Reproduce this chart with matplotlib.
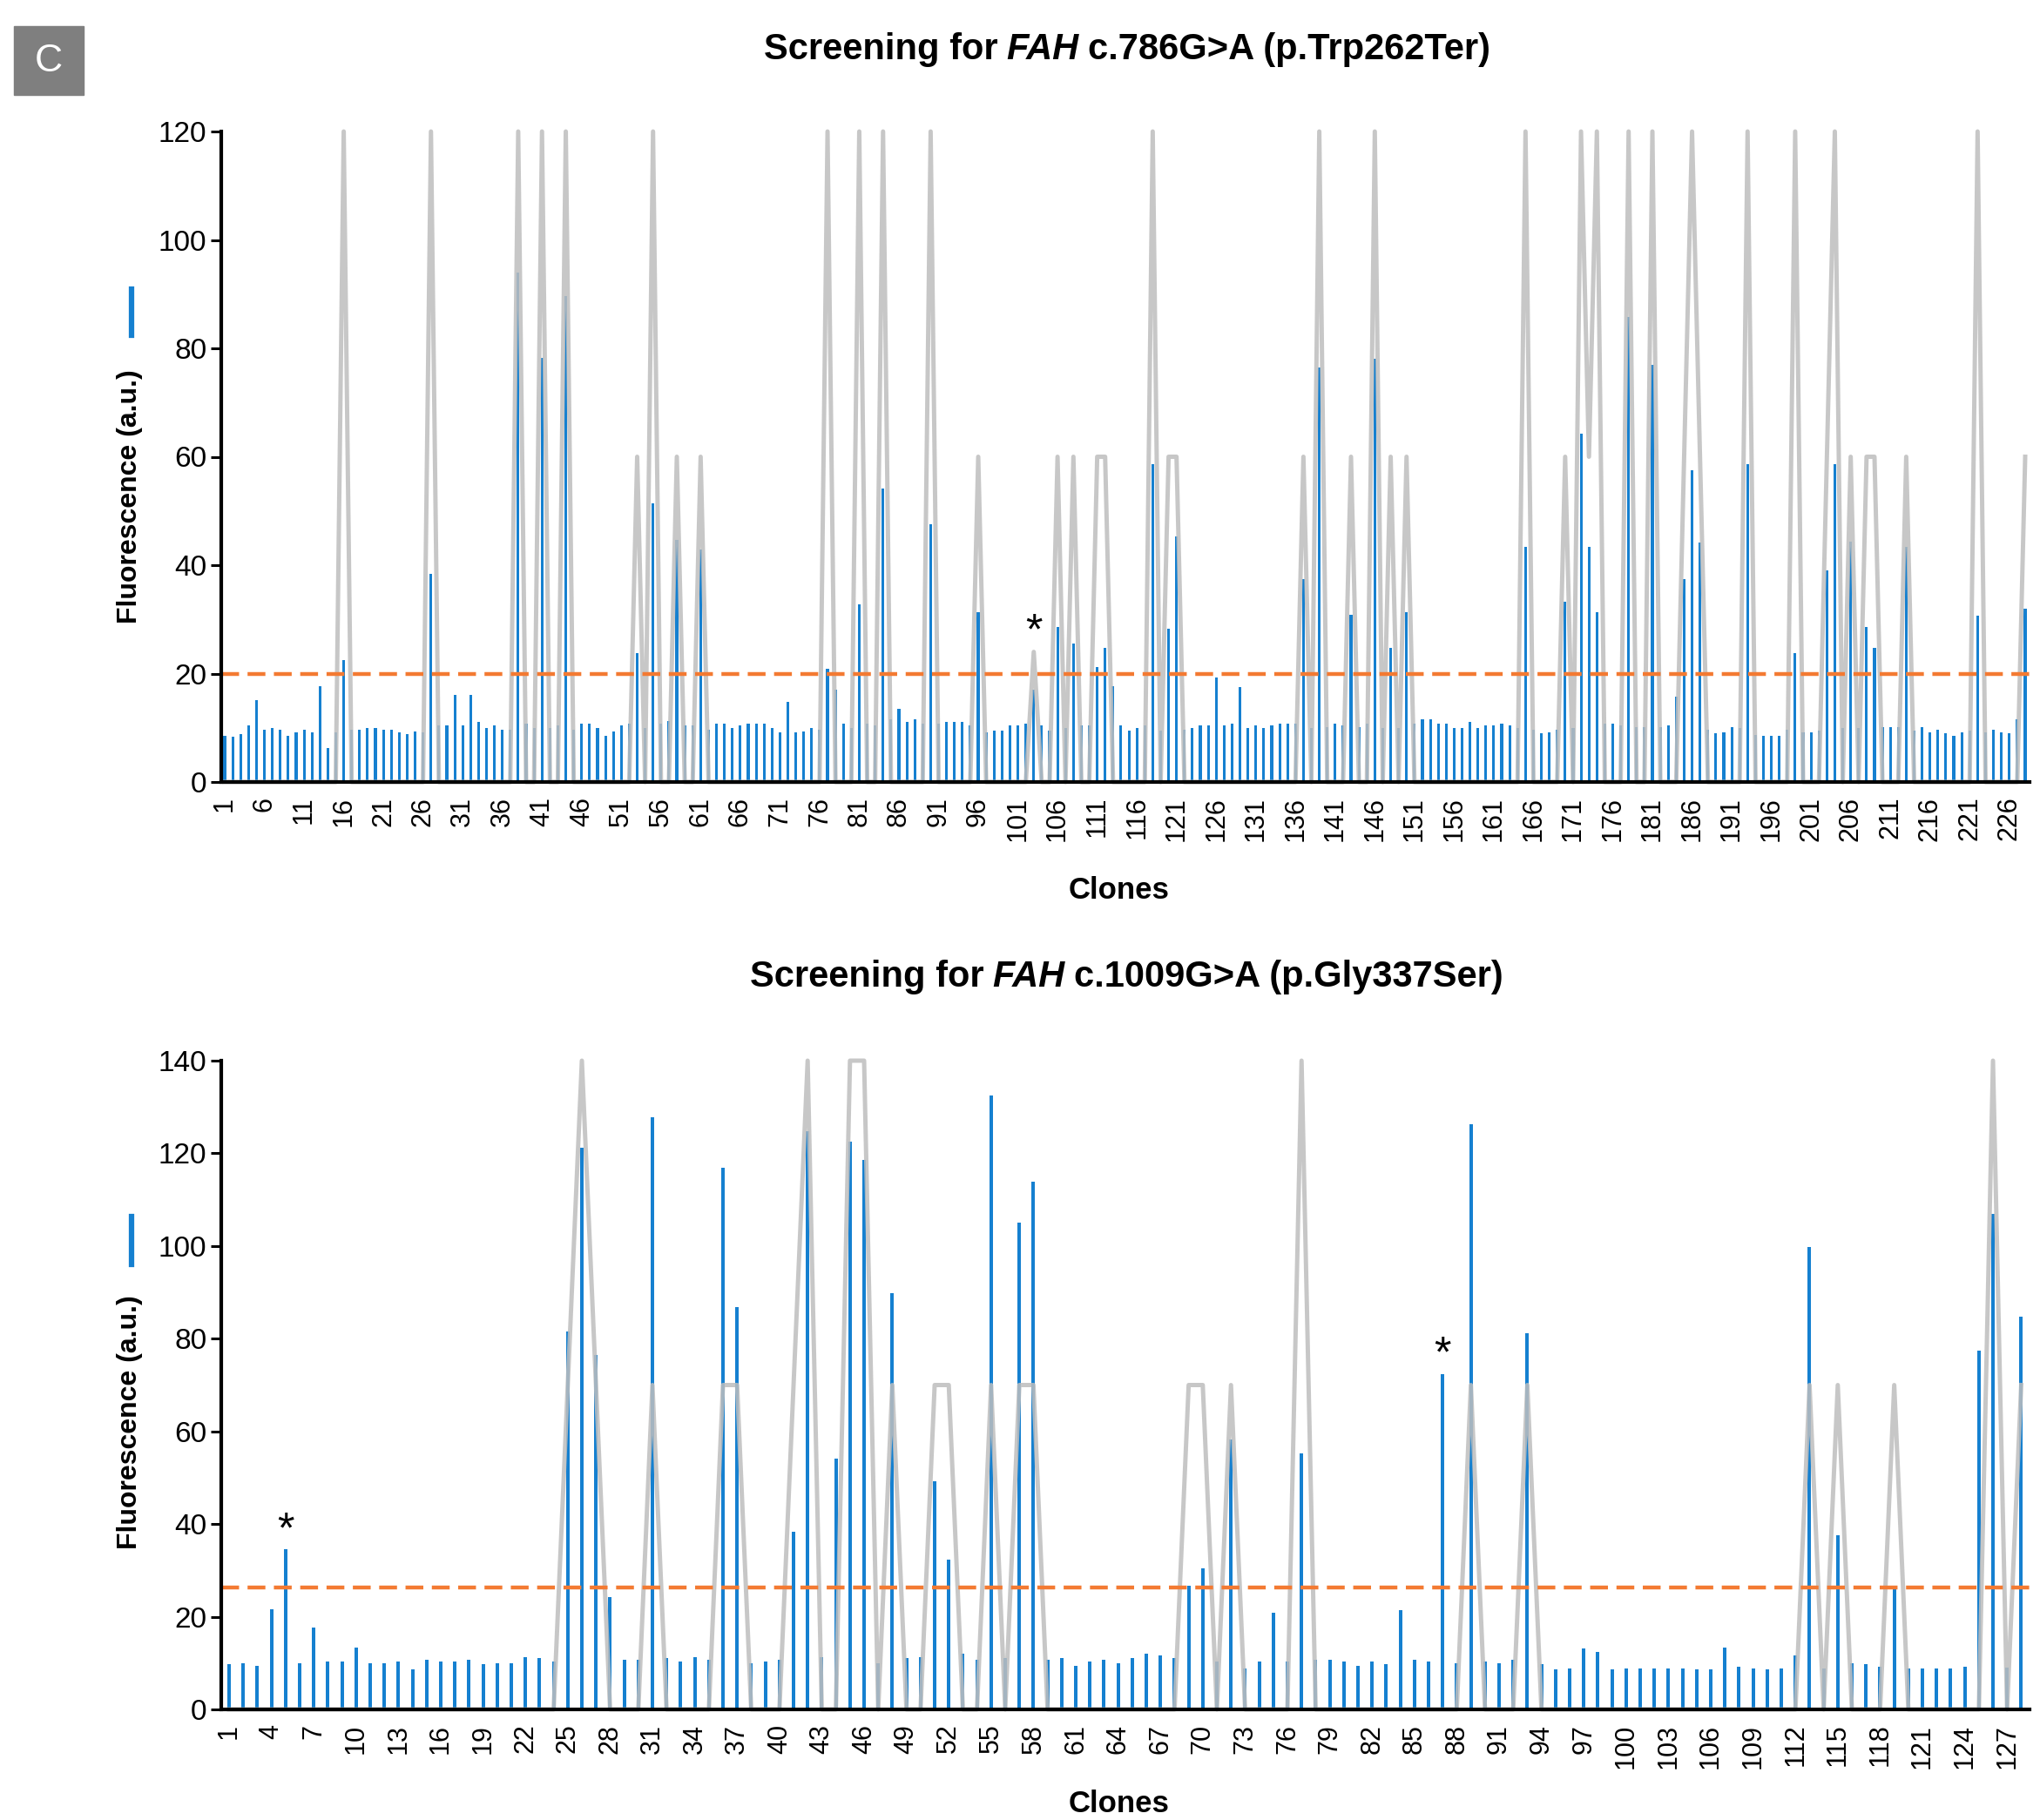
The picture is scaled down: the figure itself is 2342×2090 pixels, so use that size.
import numpy as np
import matplotlib
matplotlib.use("Agg")
import matplotlib.pyplot as plt
from matplotlib.lines import Line2D
from matplotlib.patches import Rectangle

# ---- data ----
# FAH c.786G>A screen, blue bars = fluorescence per clone
trp_fluorescence = [
    8.5, 8.3, 8.9, 10.4, 15.1, 9.7, 9.9, 9.7, 8.5, 9.1,
    9.7, 9.1, 17.7, 6.3, 9.1, 22.5, 9.7, 9.7, 9.9, 9.9,
    9.7, 9.7, 9.1, 8.9, 9.3, 9.1, 38.4, 10.4, 10.4, 16.0,
    10.4, 16.0, 11.1, 9.9, 10.4, 9.7, 9.7, 93.9, 10.7, 9.9,
    78.3, 10.0, 10.4, 89.6, 9.7, 10.7, 10.7, 9.9, 8.5, 9.3,
    10.4, 10.7, 23.8, 10.0, 51.4, 10.8, 11.3, 44.6, 10.4, 10.4,
    42.9, 9.7, 10.8, 10.8, 9.9, 10.4, 10.8, 10.8, 10.7, 9.9,
    9.1, 14.8, 9.1, 9.3, 9.9, 9.7, 20.9, 17.0, 10.8, 10.0,
    32.8, 10.8, 10.4, 54.1, 11.5, 13.5, 11.1, 11.5, 10.8, 47.6,
    10.8, 11.1, 11.1, 11.1, 10.4, 31.4, 9.1, 9.4, 9.4, 10.4,
    10.4, 10.8, 17.0, 10.4, 9.4, 28.6, 10.0, 25.5, 10.4, 10.4,
    21.2, 24.8, 17.7, 10.4, 9.4, 9.9, 10.4, 58.7, 9.5, 28.3,
    45.3, 9.7, 9.9, 10.4, 10.4, 19.2, 10.4, 10.8, 17.5, 9.9,
    10.4, 9.9, 10.4, 10.7, 10.8, 10.7, 37.5, 10.0, 76.4, 10.1,
    10.7, 10.4, 30.9, 10.1, 10.8, 78.1, 10.0, 24.7, 10.0, 31.4,
    10.8, 11.6, 11.5, 10.8, 10.7, 9.9, 9.9, 11.1, 9.9, 10.4,
    10.4, 10.7, 10.4, 10.0, 43.4, 9.7, 9.0, 9.2, 9.7, 33.2,
    10.0, 64.2, 43.4, 31.4, 10.8, 10.8, 10.4, 85.8, 10.1, 10.1,
    76.9, 10.1, 10.4, 15.8, 37.5, 57.5, 44.1, 9.7, 9.0, 9.2,
    10.1, 9.9, 58.7, 8.7, 8.5, 8.5, 8.5, 9.7, 23.8, 9.2,
    9.2, 9.4, 39.0, 58.7, 10.0, 44.3, 10.0, 28.6, 24.7, 10.1,
    10.1, 10.1, 43.4, 9.4, 10.1, 9.2, 9.7, 9.0, 8.5, 9.2,
    9.4, 30.7, 9.2, 9.7, 9.2, 9.0, 11.5, 31.9,
]
# gray line: non-zero clones only (all others are 0)
trp_genotype = {
    16: 120, 27: 120, 38: 120, 41: 120, 44: 120, 53: 60, 55: 120, 58: 60,
    61: 60, 77: 120, 81: 120, 84: 120, 90: 120, 96: 60, 103: 24, 106: 60,
    108: 60, 111: 60, 112: 60, 118: 120, 120: 60, 121: 60, 137: 60, 139: 120,
    143: 60, 146: 120, 148: 60, 150: 60, 165: 120, 170: 60, 172: 120, 173: 60,
    174: 120, 178: 120, 181: 120, 185: 60, 186: 120, 187: 60, 193: 120,
    199: 120, 203: 60, 204: 120, 206: 60, 208: 60, 209: 60, 213: 60,
    222: 120, 228: 60,
}
trp_threshold = 20
trp_stars = [(103, 27.5)]

# FAH c.1009G>A screen
gly_fluorescence = [
    9.7, 10.0, 9.4, 21.7, 34.6, 10.0, 17.7, 10.4, 10.4, 13.3,
    10.0, 10.0, 10.4, 8.7, 10.8, 10.4, 10.4, 10.8, 9.7, 10.0,
    10.0, 11.3, 11.1, 10.4, 81.5, 121.3, 76.5, 24.2, 10.8, 10.8,
    127.8, 11.1, 10.4, 11.3, 10.8, 116.9, 86.9, 10.0, 10.4, 10.8,
    38.4, 124.8, 11.3, 54.2, 122.6, 118.5, 10.0, 89.8, 11.1, 11.3,
    49.3, 32.4, 12.0, 10.8, 132.4, 11.1, 105.1, 113.8, 10.8, 11.1,
    9.4, 10.4, 10.8, 10.0, 11.1, 12.0, 11.7, 11.1, 26.6, 30.5,
    10.3, 58.2, 8.9, 10.4, 20.9, 10.4, 55.3, 10.8, 10.8, 10.4,
    9.4, 10.4, 9.7, 21.5, 10.8, 10.4, 72.4, 10.0, 126.2, 10.4,
    10.0, 10.8, 81.1, 9.7, 8.7, 8.9, 13.1, 12.4, 8.7, 8.9,
    8.9, 8.9, 8.9, 8.9, 8.6, 8.6, 13.3, 9.2, 8.9, 8.6,
    8.9, 11.7, 99.8, 8.9, 37.5, 10.0, 9.8, 9.2, 26.2, 8.9,
    8.9, 8.9, 8.9, 9.2, 77.4, 106.9, 9.0, 84.7,
]
gly_genotype = {
    25: 70, 26: 140, 27: 70, 31: 70, 36: 70, 37: 70, 41: 70, 42: 140,
    45: 140, 46: 140, 48: 70, 51: 70, 52: 70, 55: 70, 57: 70, 58: 70,
    69: 70, 70: 70, 72: 70, 77: 140, 89: 70, 93: 70, 113: 70, 115: 70,
    119: 70, 126: 140, 128: 70,
}
gly_threshold = 26.4
gly_stars = [(5, 38.5), (87, 76.5)]

BLUE = "#1580d0"
GRAY = "#bebebe"
ORANGE = "#f37a32"

plt.rcParams["font.family"] = ["Liberation Sans", "DejaVu Sans"]

fig = plt.figure(figsize=(23.42, 20.90), dpi=100)
W, H = 2342, 2090


def draw_panel(ax, fluo, genotype, threshold, ymax, tick_every, bar_w, xlim, stars):
    n = len(fluo)
    clones = np.arange(1, n + 1)
    gline = np.zeros(n)
    for k, v in genotype.items():
        gline[k - 1] = v

    ax.bar(clones, fluo, width=bar_w, color=BLUE, zorder=2)
    ax.plot(clones, gline, color=GRAY, lw=3.6, alpha=0.85, zorder=3, clip_on=False)
    ax.axhline(threshold, color=ORANGE, lw=3.2, dashes=(4.6, 2.2), zorder=4)

    for cx, cy in stars:
        ax.text(cx, cy, "*", ha="center", va="center", fontsize=36, zorder=5)

    ax.set_xlim(*xlim)
    ax.set_ylim(0, ymax)
    ax.set_yticks(range(0, ymax + 1, 20))
    ticks = list(range(1, n + 1, tick_every))
    ax.set_xticks(ticks)
    ax.set_xticklabels([str(t) for t in ticks], rotation=90)

    for s in ("top", "right"):
        ax.spines[s].set_visible(False)
    for s in ("left", "bottom"):
        ax.spines[s].set_linewidth(3)
        ax.spines[s].set_color("black")
        ax.spines[s].set_zorder(6)

    ax.tick_params(axis="x", length=0, pad=12, labelsize=22)
    ax.tick_params(axis="y", length=9, width=2.2, pad=3, labelsize=24)


ax1 = fig.add_axes([254 / W, 1 - 898 / H, (2330 - 254) / W, (898 - 151) / H])
draw_panel(ax1, trp_fluorescence, trp_genotype, trp_threshold, 120, 5, 0.34,
           (0.56, 228.55), trp_stars)

ax2 = fig.add_axes([254 / W, 1 - 1963 / H, (2330 - 254) / W, (1963 - 1218) / H])
draw_panel(ax2, gly_fluorescence, gly_genotype, gly_threshold, 140, 3, 0.24,
           (0.444, 128.59), gly_stars)


def centered_title(xc_px, yc_px, parts, size):
    texts = []
    for s, style in parts:
        t = fig.text(0, 1 - yc_px / H, s, fontsize=size, fontweight="bold",
                     fontstyle=style, ha="left", va="center")
        texts.append(t)
    fig.canvas.draw()
    r = fig.canvas.get_renderer()
    widths = [t.get_window_extent(r).width for t in texts]
    gap = size * 0.34
    total = sum(widths) + gap * (len(texts) - 1)
    x = xc_px - total / 2
    for t, w in zip(texts, widths):
        t.set_x(x / W)
        x += w + gap


centered_title(1294, 57, [("Screening for", "normal"), ("FAH", "italic"),
                          ("c.786G>A (p.Trp262Ter)", "normal")], 30)
centered_title(1293, 1122, [("Screening for", "normal"), ("FAH", "italic"),
                            ("c.1009G>A (p.Gly337Ser)", "normal")], 30)

# axis titles
fig.text(1285 / W, 1 - 1032 / H, "Clones", fontsize=25, fontweight="bold",
         ha="center", va="baseline")
fig.text(1285 / W, 2 / H, "Clones", fontsize=25, fontweight="bold",
         ha="center", va="bottom")

for yc, k0, k1 in [(570, 332, 385), (1633, 1397, 1452)]:
    fig.text(149 / W, 1 - yc / H, "Fluorescence (a.u.)", fontsize=23,
             fontweight="bold", rotation=90, ha="center", va="center")
    fig.add_artist(Line2D([151 / W, 151 / W], [1 - k0 / H, 1 - k1 / H],
                          color=BLUE, lw=4.5, transform=fig.transFigure))

# panel letter
fig.add_artist(Rectangle((16 / W, 1 - 109 / H), 80 / W, 79 / H,
                         transform=fig.transFigure, color="#7f7f7f"))
fig.text(56 / W, 1 - 70 / H, "C", color="white", fontsize=32,
         ha="center", va="center")

fig.savefig("out.png", dpi=100)
